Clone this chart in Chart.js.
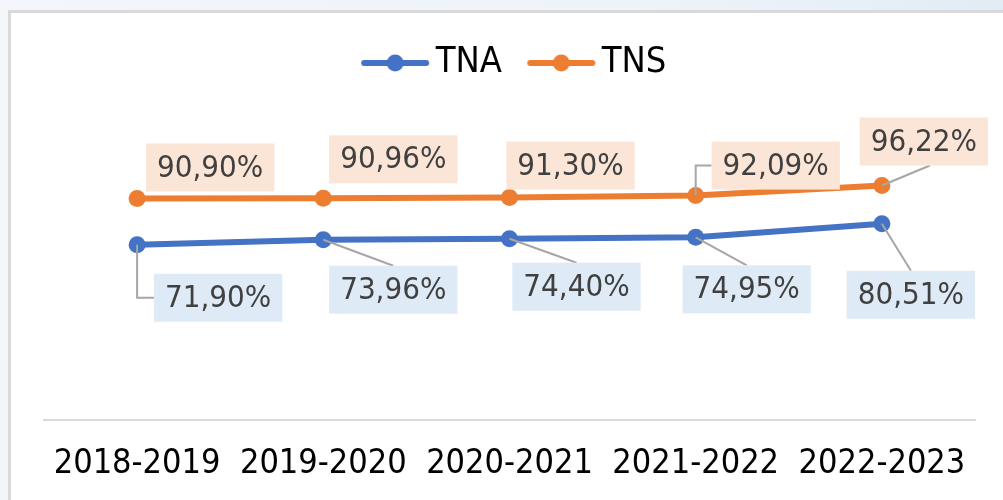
<!DOCTYPE html>
<html>
<head>
<meta charset="utf-8">
<script src="https://cdn.jsdelivr.net/npm/chart.js@4.4.1/dist/chart.umd.min.js"></script>
<style>
	html, body { margin: 0; padding: 0; }
	body {
		width: 1003px;
		height: 500px;
		overflow: hidden;
		position: relative;
		background: linear-gradient(100deg, #f3f6fa 0%, #eef3f8 60%, #dfeaf5 100%);
	}
	#frame {
		position: absolute;
		left: 8px;
		top: 10px;
		width: 1010px;
		height: 510px;
		background: #fff;
		border: 3px solid #d9d9d9;
	}
	#wrap {
		position: absolute;
		left: 0;
		top: 0;
		width: 1003px;
		height: 500px;
	}
</style>
</head>
<body>
<div id="frame"></div>
<div id="wrap"><canvas id="chart" width="1003" height="500"></canvas></div>
<script>
'use strict';

// Data
var years = ['2018-2019', '2019-2020', '2020-2021', '2021-2022', '2022-2023'];
var tnaValues = [71.90, 73.96, 74.40, 74.95, 80.51];
var tnsValues = [90.90, 90.96, 91.30, 92.09, 96.22];

var blue = '#4472c4';
var orange = '#ed7d31';
var fontFamily = "'DejaVu Sans Condensed', 'DejaVu Sans', sans-serif";

// Label placement (box centre offset from the point, leader style)
var tnsLabelPos = [
	{ dx: 73, dy: -31, leader: 'none' },
	{ dx: 70, dy: -39, leader: 'none' },
	{ dx: 61, dy: -32, leader: 'none' },
	{ dx: 80, dy: -30, leader: 'elbow' },
	{ dx: 42, dy: -44, leader: 'edge' }
];
var tnaLabelPos = [
	{ dx: 81, dy: 53, leader: 'elbow' },
	{ dx: 70, dy: 50, leader: 'edge' },
	{ dx: 67, dy: 48, leader: 'edge' },
	{ dx: 51, dy: 52, leader: 'edge' },
	{ dx: 29, dy: 71, leader: 'edge' }
];

function formatPct(v) {
	return v.toFixed(2).replace('.', ',') + '%';
}

// legend symbol: short line with a dot in the middle
function legendSymbol(color) {
	var c = document.createElement('canvas');
	c.width = 70;
	c.height = 20;
	var g = c.getContext('2d');
	g.strokeStyle = color;
	g.lineWidth = 6;
	g.lineCap = 'round';
	g.beginPath();
	g.moveTo(4, 10);
	g.lineTo(66, 10);
	g.stroke();
	g.fillStyle = color;
	g.beginPath();
	g.arc(35, 10, 8.5, 0, Math.PI * 2);
	g.fill();
	return c;
}

var boxLabels = {
	id: 'boxLabels',
	afterDatasetsDraw: function(chart) {
		var ctx = chart.ctx;
		var sets = [
			{ meta: chart.getDatasetMeta(1), values: tnsValues, pos: tnsLabelPos, fill: '#fbe5d6' },
			{ meta: chart.getDatasetMeta(0), values: tnaValues, pos: tnaLabelPos, fill: '#deebf7' }
		];
		ctx.save();
		ctx.font = '31px ' + fontFamily;
		ctx.textAlign = 'center';
		ctx.textBaseline = 'middle';
		sets.forEach(function(s) {
			s.meta.data.forEach(function(pt, i) {
				var p = s.pos[i];
				var text = formatPct(s.values[i]);
				var w = ctx.measureText(text).width + 22;
				var h = 48;
				var cx = pt.x + p.dx;
				var cy = pt.y + p.dy;
				var left = cx - w / 2;
				var top = cy - h / 2;

				ctx.strokeStyle = '#a6a6a6';
				ctx.lineWidth = 2;
				if (p.leader === 'elbow') {
					ctx.beginPath();
					ctx.moveTo(pt.x, pt.y);
					ctx.lineTo(pt.x, cy);
					ctx.lineTo(left, cy);
					ctx.stroke();
				} else if (p.leader === 'edge') {
					ctx.beginPath();
					ctx.moveTo(pt.x, pt.y);
					ctx.lineTo(cx + (p.dy < 0 ? 6 : 0), p.dy < 0 ? top + h : top);
					ctx.stroke();
				}

				ctx.fillStyle = s.fill;
				ctx.fillRect(left, top, w, h);
				ctx.fillStyle = '#404040';
				ctx.fillText(text, cx, cy + 1);
			});
		});
		ctx.restore();
	}
};

var legendShift = {
	id: 'legendShift',
	afterLayout: function(chart) {
		chart.legend.left += 10;
		chart.legend.right += 10;
	}
};

var ctx = document.getElementById('chart');
var chart = new Chart(ctx, {
	type: 'line',
	data: {
		labels: years,
		datasets: [ {
			label: 'TNA',
			data: tnaValues,
			borderColor: blue,
			backgroundColor: blue,
			borderWidth: 6,
			pointRadius: 8.5,
			pointBorderWidth: 0,
			pointBackgroundColor: blue,
			tension: 0
		}, {
			label: 'TNS',
			data: tnsValues,
			borderColor: orange,
			backgroundColor: orange,
			borderWidth: 6,
			pointRadius: 8.5,
			pointBorderWidth: 0,
			pointBackgroundColor: orange,
			tension: 0
		} ]
	},
	options: {
		responsive: false,
		animation: false,
		clip: false,
		layout: {
			padding: {
				left: 44,
				right: 28,
				top: 8,
				bottom: -8
			}
		},
		scales: {
			x: {
				offset: true,
				grid: { display: false, drawTicks: false, tickLength: 0 },
				border: { display: true, color: '#d9d9d9', width: 2 },
				ticks: {
					color: '#000',
					padding: 27,
					maxRotation: 0,
					autoSkip: false,
					font: { family: fontFamily, size: 34, lineHeight: 1 }
				}
			},
			y: {
				display: false,
				min: 0,
				max: 135
			}
		},
		plugins: {
			legend: {
				position: 'top',
				labels: {
					color: '#000',
					usePointStyle: true,
					pointStyleWidth: 45,
					padding: 37,
					font: { family: fontFamily, size: 36 },
					generateLabels: function(chart) {
						return chart.data.datasets.map(function(ds, i) {
							return {
								text: ds.label,
								pointStyle: legendSymbol(ds.borderColor),
								fillStyle: ds.borderColor,
								strokeStyle: ds.borderColor,
								lineWidth: 0,
								hidden: false,
								datasetIndex: i,
								fontColor: '#000'
							};
						});
					}
				}
			},
			tooltip: { enabled: false }
		}
	},
	plugins: [ boxLabels, legendShift ]
});
</script>
</body>
</html>
